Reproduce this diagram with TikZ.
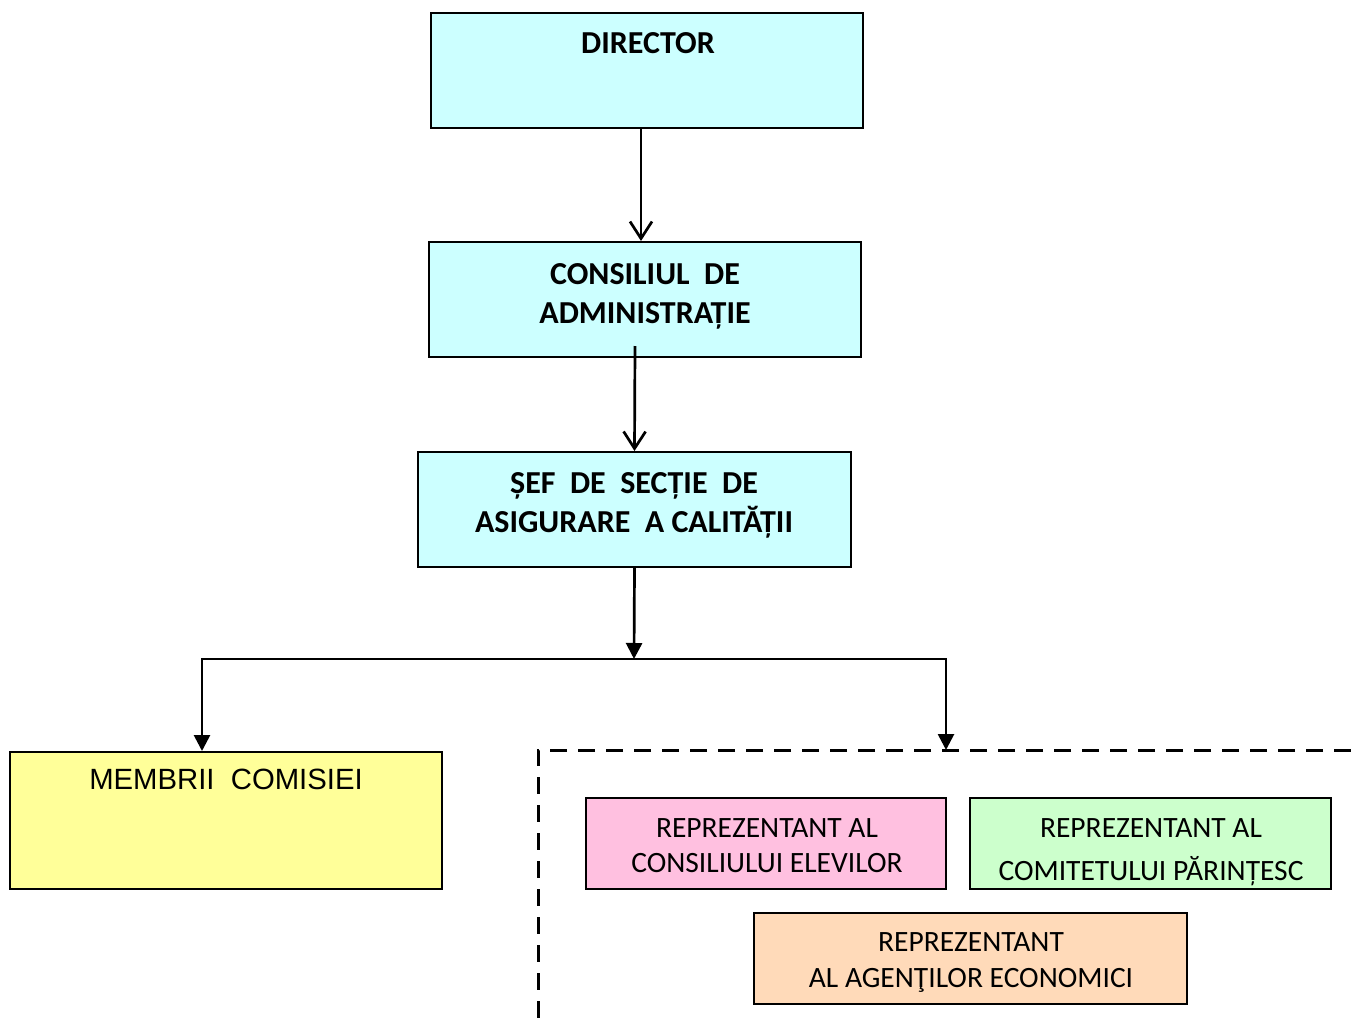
\documentclass[tikz,border=0pt]{standalone}
\usepackage{fontspec}
\usetikzlibrary{arrows.meta}
\newfontfamily\calfont{Carlito}
\newfontfamily\arifont{Liberation Sans}
\definecolor{cyanf}{RGB}{204,255,255}
\definecolor{yellowf}{RGB}{255,255,153}
\definecolor{pinkf}{RGB}{255,192,224}
\definecolor{greenf}{RGB}{204,255,204}
\definecolor{orangef}{RGB}{255,218,185}
\tikzset{
  box/.style={draw=black, line width=2pt, rectangle, inner sep=0pt},
  boldtxt/.style={anchor=base, inner sep=0pt, font=\calfont\bfseries\fontsize{32}{38}\selectfont},
  regtxt/.style={anchor=base, inner sep=0pt, font=\calfont\fontsize{29.5}{35}\selectfont},
  aritxt/.style={anchor=base, inner sep=0pt, font=\arifont\fontsize{29.3}{35}\selectfont},
  openarr/.style={line width=2.7pt, -{Straight Barb[length=17pt,width=22pt,line width=2.7pt]}},
  filarr/.style={line width=2.7pt, -{Triangle[length=16pt,width=16pt]}},
  dasharr/.style={line width=2.7pt, {Triangle[length=16pt,width=16pt]}-{Triangle[length=16pt,width=16pt]}},
  dashline/.style={line width=3pt, dash pattern=on 17pt off 11pt}
}
\begin{document}
\begin{tikzpicture}[x=1pt,y=-1pt]
\useasboundingbox (0,0) rectangle (1351,1025);
% boxes
\node[box, fill=cyanf, minimum width=432pt, minimum height=115pt] (dir) at (647,70.5) {};
\node[box, fill=cyanf, minimum width=432pt, minimum height=115pt] (cons) at (645,299.5) {};
\node[box, fill=cyanf, minimum width=433pt, minimum height=115pt] (sef) at (634.5,509.5) {};
\node[box, fill=yellowf, minimum width=432pt, minimum height=137pt] (memb) at (226,820.5) {};
\node[box, fill=pinkf, minimum width=360pt, minimum height=91pt] (elev) at (766,843.5) {};
\node[box, fill=greenf, minimum width=361pt, minimum height=91pt] (par) at (1150.5,843.5) {};
\node[box, fill=orangef, minimum width=433pt, minimum height=91pt] (agent) at (970.5,958.5) {};
% texts
\node[boldtxt] (t1) at (648,54) {DIRECTOR};
\node[boldtxt] (t2a) at (645,284) {CONSILIUL~ DE};
\node[boldtxt] (t2b) at (645,323) {ADMINISTRAȚIE};
\node[boldtxt] (t3a) at (634,493) {ȘEF~ DE~ SECȚIE~ DE};
\node[boldtxt] (t3b) at (634,532) {ASIGURARE~ A CALITĂȚII};
\node[aritxt] (t4) at (226,789) {MEMBRII~ COMISIEI};
\node[regtxt] (t5a) at (767,837) {REPREZENTANT AL};
\node[regtxt] (t5b) at (767,872) {CONSILIULUI ELEVILOR};
\node[regtxt] (t6a) at (1151,837) {REPREZENTANT AL};
\node[regtxt] (t6b) at (1151,880) {COMITETULUI PĂRINȚESC};
\node[regtxt] (t7a) at (971,951) {REPREZENTANT};
\node[regtxt] (t7b) at (971,987) {AL AGENŢILOR ECONOMICI};
% coordinates
\coordinate (jc) at (634,659);
\coordinate (jl) at (202,659);
\coordinate (jr) at (946,659);
\coordinate (dcorner) at (538,750);
\coordinate (dright) at (1351,750);
\coordinate (dbottom) at (538,1018);
% connectors
\draw[openarr] ([xshift=-6pt]dir.south) -- ([xshift=-4pt]cons.north);
\draw[openarr] ([xshift=-10pt,yshift=12pt]cons.south) -- (sef.north);
\draw[filarr] (sef.south) -- (jc);
\draw[dasharr] (jl |- memb.north) |- (jr) -- (jr |- dcorner);
\draw[dashline] (dright) -- (dcorner) -- (dbottom);
\end{tikzpicture}
\end{document}
